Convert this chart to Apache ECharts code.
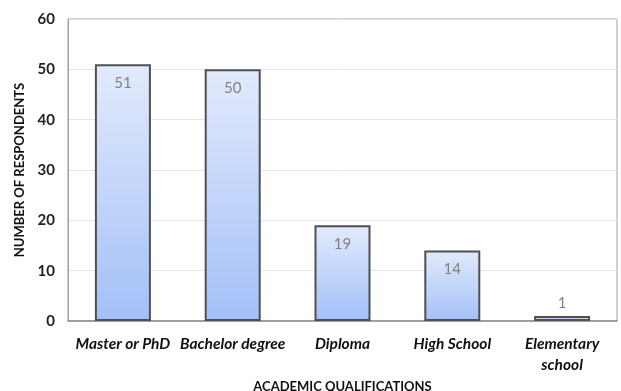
<!DOCTYPE html>
<html>
<head>
<meta charset="utf-8">
<script src="https://cdn.jsdelivr.net/npm/echarts@6/dist/echarts.min.js"></script>
<style>
  html, body { margin: 0; padding: 0; background: #fff; }
  #chart { width: 621px; height: 391px; }
</style>
</head>
<body>
<div id="chart"></div>
<script>
// Respondents by academic qualification
const categories = ['Master or PhD', 'Bachelor degree', 'Diploma', 'High School', 'Elementary\nschool'];
const respondents = [51, 50, 19, 14, 1];
const yTicks = { min: 0, max: 60, interval: 10 };

const FONT = 'Lato, "Open Sans", sans-serif';

const chart = echarts.init(document.getElementById('chart'));

const barFill = new echarts.graphic.LinearGradient(0, 0, 0, 1, [
  { offset: 0, color: '#e2eafc' },
  { offset: 1, color: '#a3c0f8' }
]);

chart.setOption({
  animation: false,
  grid: {
    left: 68, right: 4, top: 19, bottom: 70,
    containLabel: false, outerBoundsMode: 'none',
    show: true, borderColor: '#a0a0a0', borderWidth: 1
  },
  xAxis: {
    type: 'category',
    data: categories,
    name: 'ACADEMIC QUALIFICATIONS',
    nameLocation: 'middle',
    nameGap: 58,
    nameTextStyle: { fontFamily: FONT, fontWeight: 'bold', fontSize: 13, color: '#111' },
    axisTick: { show: false },
    axisLine: { lineStyle: { color: '#8a8a8a', width: 1.5 } },
    axisLabel: {
      fontFamily: FONT, fontWeight: 'bold', fontStyle: 'italic', fontSize: 15.5,
      color: '#111', margin: 12, lineHeight: 21, interval: 0
    }
  },
  yAxis: {
    type: 'value',
    min: yTicks.min, max: yTicks.max, interval: yTicks.interval,
    name: 'NUMBER OF RESPONDENTS',
    nameLocation: 'middle',
    nameGap: 41,
    nameTextStyle: { fontFamily: FONT, fontWeight: 'bold', fontSize: 13, color: '#111' },
    axisLine: { show: true, lineStyle: { color: '#a0a0a0' } },
    axisTick: { show: false },
    splitLine: { lineStyle: { color: '#e4e4e4' } },
    axisLabel: { fontFamily: FONT, fontWeight: 'bold', fontSize: 15, color: '#222', margin: 13 }
  },
  series: [{
    type: 'bar',
    barWidth: '51%',
    data: respondents.map(v => ({
      value: v,
      label: v < 5 ? { position: 'top', distance: 5 } : { position: 'insideTop', distance: 11 }
    })),
    itemStyle: { color: barFill, borderColor: '#505050', borderWidth: 2 },
    label: {
      show: true,
      fontFamily: FONT, fontSize: 15, fontWeight: 'normal', color: '#808080'
    }
  }]
});
</script>
</body>
</html>
